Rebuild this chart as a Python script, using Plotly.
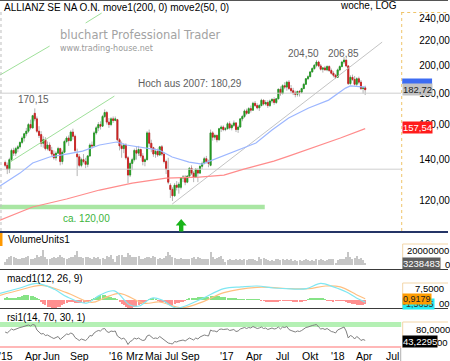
import math
import pandas as pd
import plotly.graph_objects as go

W, H = 450, 361
FONT = "Liberation Sans, Arial, sans-serif"


def fx(x):
    return x / W


def fy(y):
    return 1 - y / H


# ---------------- data ----------------
week_start = "2014-12-29"
dates = pd.date_range(week_start, periods=171, freq="7D")

open_ = [
    138.5, 137, 135, 140, 145, 143.5, 146, 147, 149.5, 152,
    154.5, 156, 160, 158, 167, 163.5, 156, 154, 149, 151,
    146, 148, 145, 143, 141, 143.5, 146, 139, 144, 150,
    152, 150.5, 155.5, 153, 143, 141.5, 137, 140, 139, 137.5,
    142, 148, 147.5, 155, 158, 160, 159, 165, 167.5, 161.5,
    160, 163.5, 162.5, 163, 151, 147.5, 146, 148, 141, 132,
    138, 140, 145, 143.5, 145.5, 142, 139, 140, 155, 149,
    146.5, 143, 144.5, 142.5, 147, 143, 139, 134.5, 127, 125,
    122, 127, 126, 126, 130.5, 131, 128.5, 131.5, 135.5, 133,
    131, 134.5, 133, 136.5, 138, 140.5, 139, 137, 155, 152.5,
    153.5, 151, 157.5, 158.5, 157, 157.5, 160.5, 158, 159.5, 161,
    157, 158.5, 163.5, 165, 168.5, 167, 170, 169, 173.5, 172,
    170.5, 172, 175.5, 173, 174, 172, 175, 176, 174, 176.5,
    183, 180, 185.5, 184.5, 188, 183.5, 182, 180.5, 179.5, 181.5,
    181, 183.5, 186.5, 190.5, 192, 195.5, 198, 200.5, 203, 200,
    197.5, 198.5, 197, 199.5, 196.5, 194.5, 193, 191.5, 197, 199.5,
    203, 204.5, 200, 187, 191.5, 190, 186.5, 190.5, 188, 183.5,
    184]
high = [
    139.5, 138.5, 141, 146, 146.5, 147, 148, 150, 153, 155,
    158, 161, 163, 166, 170.15, 165, 159, 156, 153, 152.5,
    150, 149.5, 147, 145, 144.5, 147, 146.5, 145, 151, 153,
    153.5, 156.5, 157.5, 154, 146, 143, 141, 143, 141, 142.5,
    149, 150, 156, 159, 161.5, 162, 166, 169.5, 168.5, 164,
    164.5, 165, 165, 163.5, 152, 150, 149, 149, 142, 139,
    141, 146, 147, 147.5, 146, 143.5, 141, 156, 157, 151,
    147, 146, 146, 147.5, 148, 144, 140, 141, 128, 126,
    128, 129, 128.5, 131, 132, 132, 132, 136, 137, 134,
    135.5, 135.5, 137, 139, 141.5, 142, 140, 157, 156, 154.5,
    154, 158, 159.5, 159.5, 158.5, 161.5, 162, 160.5, 162.5, 161.5,
    159.5, 164, 166, 169.5, 170, 171, 172, 174.5, 175, 173.5,
    173, 176.5, 176, 175.5, 175.5, 176, 177, 177.5, 177, 183.5,
    185, 186.5, 188, 189, 189.5, 186, 184, 182, 182, 182.5,
    184, 187.5, 191, 193, 196, 199, 201.5, 204.5, 204, 201.5,
    199, 200, 200.5, 200.5, 198, 196, 194, 198, 200.5, 204,
    206.85, 205, 200.5, 193, 193.5, 192.5, 191.5, 192, 189.5, 185,
    185.5]
low = [
    136, 132.5, 133, 139, 142, 142, 144, 146, 148.5, 150,
    153, 155, 157, 157.5, 162, 155, 152, 147, 146.5, 145,
    145, 144.5, 142, 140, 139.5, 143, 137, 137.5, 143.5, 149,
    147.5, 150, 151, 144, 131.5, 136, 136, 138, 135.5, 136,
    141.5, 146, 147, 154, 156, 157, 158.5, 164, 160, 158,
    159, 161, 162, 150, 145, 141, 143.5, 140, 128, 131,
    134.5, 139, 140, 142, 141, 137, 136.5, 139.5, 147, 144,
    141.5, 141, 141.5, 142, 142, 138, 132.5, 127.5, 121, 119.6,
    121.5, 124.5, 123, 125, 128.5, 127, 128, 131, 132, 128.5,
    130.5, 128.5, 132.5, 135, 137.5, 138, 136, 136.5, 150.5, 151,
    149.5, 150.5, 155.5, 156, 156, 157, 157, 156.5, 158.5, 155.5,
    155, 158, 162, 164, 166, 166.5, 167.5, 168.5, 171, 169.5,
    168.5, 171.5, 172, 172, 170.5, 171, 173.5, 172.5, 173, 176,
    178.5, 179.5, 183, 182, 182.5, 180.5, 179, 177.5, 178, 178,
    180, 183, 186, 189.5, 191.5, 195, 197, 199, 199, 196.5,
    195, 196.5, 196, 195.5, 193.5, 191.5, 190.5, 191, 196, 199,
    201.5, 199, 186, 186, 189, 185.5, 185, 186.5, 182.5, 180,
    179]
close = [
    137, 135, 140, 145, 143.5, 146, 147, 149.5, 152, 154.5,
    156, 160, 158, 165.5, 163.5, 156, 153.5, 149, 151, 146,
    148, 145, 143, 141, 143.5, 146, 139, 144, 150, 152,
    150.5, 155.5, 153, 145, 141.5, 137, 140, 139, 137.5, 142,
    148, 147.5, 155, 158, 160, 159, 165, 167.5, 161.5, 160,
    163.5, 162.5, 163.5, 151, 147.5, 146, 148, 141, 132, 138,
    140, 145, 143.5, 145.5, 142, 139, 140, 155, 149, 146.5,
    143, 144.5, 142.5, 147, 143, 139, 135, 128.5, 125, 122,
    127, 126, 127.5, 130.5, 131, 128.5, 131.5, 135.5, 133, 131,
    135, 133, 136.5, 138, 140.5, 139, 138, 155, 152.5, 153.5,
    151, 157.5, 158.5, 157, 157.5, 160.5, 158, 159.5, 161, 157,
    158.5, 163.5, 165, 168.5, 167, 170, 169, 173.5, 172, 170.5,
    172, 175.5, 173, 174, 172, 175, 176, 174, 176.5, 183,
    180, 185.5, 184.5, 188, 183.5, 182, 180.5, 179.5, 181.5, 181,
    183.5, 186.5, 190.5, 192, 195.5, 198, 200.5, 203, 200, 197.5,
    198.5, 197, 199.5, 196.5, 194.5, 193, 191.5, 197, 199.5, 203,
    204.5, 200, 187, 191.5, 190, 186.5, 190.5, 188, 183.5, 184,
    182.72]

# weekly volume (millions of shares)
volume_m = [
    5, 9, 12, 13, 11, 10, 9, 9, 10, 10,
    12, 13, 9, 8, 10, 14, 12, 13, 22, 11,
    9, 8, 10, 11, 10, 11, 14, 12, 10, 9,
    10, 11, 12, 14, 20, 12, 11, 10, 12, 11,
    10, 9, 12, 10, 11, 9, 10, 8, 13, 11,
    14, 9, 4, 13, 14, 15, 12, 12, 17, 14,
    11, 12, 11, 13, 9, 9, 10, 11, 12, 10,
    13, 12, 9, 10, 9, 10, 13, 19, 15, 12,
    10, 9, 8, 10, 9, 8, 8, 9, 10, 11,
    9, 11, 10, 9, 8, 8, 9, 19, 12, 9,
    10, 11, 13, 8, 4, 7, 8, 7, 7, 8,
    7, 8, 7, 8, 7, 8, 9, 8, 7, 6,
    11, 9, 10, 8, 7, 6, 7, 6, 8, 9,
    7, 8, 7, 8, 7, 9, 6, 7, 6, 7,
    6, 7, 9, 7, 6, 7, 6, 8, 7, 9,
    7, 6, 7, 8, 9, 8, 3, 7, 9, 8,
    9, 12, 18, 11, 9, 10, 13, 9, 10, 7,
    3.238483]

# MACD histogram (weekly)
macd_hist = [
    1.5, 2.0, 1.5, 1.0, 1.0, 1.5, 2.0, 2.5, 3.0, 3.5,
    3.5, 3.5, 3.0, 3.0, 2.5, 1.5, 0.5, -1.5, -3.0, -4.0,
    -5.0, -5.5, -6.0, -6.0, -6.0, -5.5, -5.0, -4.0, -3.0, -2.0,
    -1.0, -1.0, -1.5, -2.0, -2.5, -2.5, -2.5, -2.0, -1.5, -1.0,
    -0.5, 0.5, 1.5, 2.5, 3.0, 3.5, 3.5, 3.5, 3.0, 2.5,
    2.0, 1.5, 1.0, 0.3, -1.5, -3.0, -4.0, -5.0, -6.0, -6.0,
    -6.0, -5.5, -5.0, -4.0, -3.0, -2.5, -1.5, -0.5, 0.5, 1.0,
    1.0, 0.5, -0.3, -0.8, -1.2, -1.8, -2.5, -3.0, -3.5, -3.5,
    -3.0, -2.5, -2.0, -1.5, -1.0, -0.5, 0.3, 0.8, 1.2, 1.5,
    1.8, 2.0, 2.2, 2.5, 2.5, 2.5, 2.5, 2.8, 3.0, 3.0,
    3.0, 2.8, 2.5, 2.2, 2.0, 1.8, 1.5, 1.2, 1.0, 0.8,
    0.6, 0.4, 0.3, 0.3, 0.4, 0.5, 0.5, 0.5, 0.4, 0.3,
    0.1, -0.3, -0.6, -0.8, -1.0, -1.0, -1.0, -1.0, -0.9, -0.8,
    -0.7, -0.6, -0.5, -0.4, -0.5, -0.6, -0.8, -1.0, -1.2, -1.2,
    -1.0, -0.6, -0.2, 0.3, 0.8, 1.2, 1.5, 1.6, 1.5, 1.2,
    0.8, 0.3, -0.2, -0.5, -0.7, -0.8, -0.7, -0.5, -0.3, -0.1,
    -0.2, -1.0, -2.0, -2.5, -3.0, -3.3, -3.5, -3.5, -3.6, -3.5,
    -3.3]

# RSI(14) weekly
rsi = [
    60, 58, 62, 66, 64, 66, 67, 69, 70, 71,
    73, 74, 72, 75, 74, 64, 60, 56, 57, 53,
    54, 51, 49, 47, 49, 51, 45, 49, 54, 56,
    55, 58, 56, 49, 46, 43, 46, 45, 43, 47,
    53, 52, 58, 61, 63, 62, 66, 67, 61, 59,
    62, 61, 62, 52, 48, 46, 48, 43, 35, 41,
    43, 48, 46, 48, 45, 43, 44, 52, 54, 50,
    47, 48, 47, 51, 48, 44, 41, 38, 37, 36,
    41, 40, 42, 43, 44, 42, 45, 48, 46, 44,
    48, 46, 50, 52, 54, 53, 52, 64, 62, 62,
    60, 65, 66, 65, 65, 66, 63, 64, 65, 61,
    62, 66, 67, 69, 67, 69, 68, 71, 69, 67,
    68, 70, 67, 68, 65, 67, 68, 66, 67, 70,
    66, 70, 69, 71, 65, 63, 61, 60, 62, 61,
    63, 66, 69, 70, 72, 73, 74, 75, 70, 66,
    67, 65, 67, 63, 61, 60, 58, 64, 66, 69,
    70, 62, 48, 53, 51, 46, 51, 48, 43, 45,
    43.2295]

# moving averages
ma50_dates = ["2014-12-12", "2015-02-16", "2015-03-30", "2015-05-25", "2015-07-20",
              "2015-09-11", "2015-11-06", "2016-01-01", "2016-02-03", "2016-03-16",
              "2016-04-18", "2016-05-21", "2016-07-03", "2016-08-28", "2016-10-10",
              "2016-11-12", "2016-12-28", "2017-02-09", "2017-04-06", "2017-05-29",
              "2017-07-23", "2017-09-27", "2017-12-02", "2018-01-27", "2018-02-12",
              "2018-04-02"]
ma50_vals = [126.6, 133.0, 138.2, 141.4, 143.0, 144.6, 148.0, 149.7, 148.0, 146.9,
             146.3, 145.2, 141.4, 138.7, 137.6, 139.7, 142.4, 145.2, 149.1, 156.7,
             164.0, 170.4, 175.6, 183.8, 185.3, 184.5]
ma200_dates = ["2014-12-12", "2015-03-30", "2015-07-20", "2015-11-06", "2016-02-22",
               "2016-06-13", "2016-09-30", "2016-12-21", "2017-02-25", "2017-06-04",
               "2017-07-23", "2017-09-20", "2018-01-10", "2018-04-02"]
ma200_vals = [111.2, 116.9, 120.5, 124.7, 128.0, 130.5, 131.0, 132.0, 135.0, 139.2,
              141.9, 145.2, 152.0, 157.54]

macd_dates = ["2014-12-12", "2015-02-16", "2015-04-12", "2015-06-10", "2015-07-20",
              "2015-09-24", "2015-11-06", "2015-12-25", "2016-02-13", "2016-03-16",
              "2016-04-28", "2016-05-31", "2016-07-16", "2016-09-30", "2016-12-21",
              "2017-02-16", "2017-04-10", "2017-06-04", "2017-07-30", "2017-09-20",
              "2017-11-06", "2017-12-18", "2018-01-30", "2018-03-04", "2018-04-02"]
macd_vals = [5.0, 9.0, 12.5, 8.0, 2.5, -2.3, 3.5, 6.8, -3.5, -4.5,
             1.5, 0.0, -6.0, 0.0, 8.5, 9.8, 10.5, 9.0, 8.3, 8.5,
             12.5, 9.8, 6.0, 1.5, -1.5655]
signal_dates = ["2014-12-12", "2015-02-16", "2015-04-29", "2015-07-20", "2015-10-11",
                "2015-11-22", "2016-01-11", "2016-04-02", "2016-05-21", "2016-08-05",
                "2016-10-16", "2016-12-21", "2017-04-10", "2017-07-30", "2017-09-27",
                "2017-11-22", "2018-01-10", "2018-03-04", "2018-04-02"]
signal_vals = [3.5, 7.5, 11.0, 5.5, -1.8, 1.5, 5.0, -2.5, -1.5, -5.8,
               -1.0, 5.5, 9.5, 8.5, 8.5, 10.5, 9.8, 4.0, 0.9179]

# drawn lines / levels
x_left, x_right = "2014-12-12", "2018-07-30"
hoch_2007 = 180.29
support_level = 135.0
band_dates = ["2014-12-12", "2017-05-05"]
band_level = 116.9
gray_trend_dates = ["2016-07-03", "2018-05-28"]
gray_trend_vals = [118.2, 219.0]
chan_low_dates = ["2015-01-14", "2015-12-25"]
chan_low_vals = [138.7, 178.3]
chan_up_dates = ["2014-12-12", "2015-05-25", None, "2015-09-21", "2015-11-13"]
chan_up_vals = [193.2, 215.7, None, 235.5, 244.6]

price_ticks = [120, 140, 160, 180, 200, 220, 240]
x_tick_dates = ["2015-01-01", "2015-04-01", "2015-06-01", "2015-09-01", "2016-01-01",
                "2016-03-01", "2016-05-01", "2016-07-01", "2016-09-01", "2017-01-01",
                "2017-04-01", "2017-07-01", "2017-10-01", "2018-01-01", "2018-04-01",
                "2018-07-01"]
x_tick_text = ["'15", "Apr", "Jun", "Sep", "'16", "Mrz", "Mai", "Jul", "Sep", "'17",
               "Apr", "Jul", "Okt", "'18", "Apr", "Jul"]

# ---------------- figure ----------------
fig = go.Figure()

fig.add_trace(go.Scatter(x=band_dates, y=[band_level, band_level], mode="lines",
                         line=dict(color="#a9e6a3", width=4.5), yaxis="y", hoverinfo="skip"))
fig.add_trace(go.Scatter(x=[x_left, x_right], y=[hoch_2007, hoch_2007], mode="lines",
                         line=dict(color="#cfcfcf", width=1), yaxis="y", hoverinfo="skip"))
fig.add_trace(go.Scatter(x=[x_left, x_right], y=[support_level, support_level], mode="lines",
                         line=dict(color="#cfcfcf", width=1), yaxis="y", hoverinfo="skip"))
fig.add_trace(go.Scatter(x=chan_up_dates, y=chan_up_vals, mode="lines", connectgaps=False,
                         line=dict(color="#9fe09a", width=1), yaxis="y", hoverinfo="skip"))
fig.add_trace(go.Scatter(x=chan_low_dates, y=chan_low_vals, mode="lines",
                         line=dict(color="#9fe09a", width=1), yaxis="y", hoverinfo="skip"))
fig.add_trace(go.Scatter(x=gray_trend_dates, y=gray_trend_vals, mode="lines",
                         line=dict(color="#c4c4c4", width=1), yaxis="y", hoverinfo="skip"))
fig.add_trace(go.Scatter(x=ma200_dates, y=ma200_vals, mode="lines",
                         line=dict(color="#ff8c8c", width=1.2), yaxis="y", hoverinfo="skip"))
fig.add_trace(go.Scatter(x=ma50_dates, y=ma50_vals, mode="lines",
                         line=dict(color="#9db7ff", width=1.2), yaxis="y", hoverinfo="skip"))

# candles: gray wicks, coloured bodies
fig.add_trace(go.Candlestick(
    x=dates, open=open_, high=high, low=low, close=close, yaxis="y",
    increasing=dict(line=dict(color="#b4b4b4", width=1), fillcolor="#b4b4b4"),
    decreasing=dict(line=dict(color="#b4b4b4", width=1), fillcolor="#b4b4b4"),
    whiskerwidth=0, hoverinfo="skip"))
body_top = [max(o, c) for o, c in zip(open_, close)]
body_bot = [min(o, c) for o, c in zip(open_, close)]
fig.add_trace(go.Candlestick(
    x=dates, open=open_, high=body_top, low=body_bot, close=close, yaxis="y",
    increasing=dict(line=dict(color="#1f9a1f", width=0.8), fillcolor="#1f9a1f"),
    decreasing=dict(line=dict(color="#cc1f1f", width=0.8), fillcolor="#cc1f1f"),
    whiskerwidth=0, hoverinfo="skip"))

# volume
WEEK_MS = 7 * 24 * 3600 * 1000
fig.add_trace(go.Bar(x=dates, y=volume_m, yaxis="y2", width=0.5 * WEEK_MS,
                     marker=dict(color="#c6c6c6", line=dict(width=0)), hoverinfo="skip"))

# MACD
hist_colors = ["#86e386" if v >= 0 else "#ff8f8f" for v in macd_hist]
fig.add_trace(go.Bar(x=dates, y=macd_hist, yaxis="y3", width=0.95 * WEEK_MS,
                     marker=dict(color=hist_colors, line=dict(width=0)), hoverinfo="skip"))
fig.add_trace(go.Scatter(x=signal_dates, y=signal_vals, mode="lines", line=dict(color="#ffbf80", width=1.2),
                         yaxis="y3", line_shape="spline", hoverinfo="skip"))
fig.add_trace(go.Scatter(x=macd_dates, y=macd_vals, mode="lines", line=dict(color="#7fe7f2", width=1.2),
                         yaxis="y3", line_shape="spline", hoverinfo="skip"))

# RSI
fig.add_trace(go.Scatter(x=dates, y=rsi, mode="lines", line=dict(color="#808080", width=1),
                         yaxis="y4", hoverinfo="skip"))

# ---------------- layout ----------------
shapes = []


def pline(x0, y0, x1, y1, color, width=1, dash=None):
    shapes.append(dict(type="line", xref="paper", yref="paper", x0=fx(x0), y0=fy(y0), x1=fx(x1), y1=fy(y1),
                       line=dict(color=color, width=width, dash=dash), layer="above"))


def prect(x0, y0, x1, y1, color):
    shapes.append(dict(type="rect", xref="paper", yref="paper", x0=fx(x0), y0=fy(y0), x1=fx(x1), y1=fy(y1),
                       fillcolor=color, line=dict(width=0), layer="above"))


# RSI zones
shapes.append(dict(type="rect", xref="paper", yref="y4", x0=0, x1=fx(403), y0=70, y1=80,
                   fillcolor="#b4f0b4", line=dict(width=0), layer="below"))
shapes.append(dict(type="line", xref="paper", yref="y4", x0=0, x1=fx(403), y0=30, y1=30,
                   line=dict(color="#ffb8b8", width=2), layer="below"))

pline(0, 0.5, 450, 0.5, "#555555", 1)
pline(1, 12, 1, 231, "#bdbdbd", 1, "dot")
pline(403.5, 12, 403.5, 231, "#efc46a", 1, "dot")
pline(403, 12.5, 450, 12.5, "#efc46a", 1, "dot")
pline(0, 232, 450, 232, "#243466", 2)
pline(0, 269.5, 450, 269.5, "#3a3a3a", 1)
pline(0, 308.5, 450, 308.5, "#3a3a3a", 1)
pline(402.5, 348, 402.5, 361, "#b0b0b0", 1)
for top, bot in [(244, 269), (283, 308), (322, 348)]:
    pline(404.5, top, 404.5, bot, "#f3d6a8", 1)
    pline(404.5, top, 450, top, "#f3d6a8", 1)
prect(0, 233, 2.5, 246, "#ff9900")
# blue last-value marker of the 50-week average (partly covered by the close box)
prect(404, 78.5, 434, 84, "#3d6cf2")

# green arrow under the low
ax_pts = [(182, 219), (187.5, 225.5), (184.2, 225.5), (184.2, 231.5), (179.8, 231.5),
          (179.8, 225.5), (176.5, 225.5)]
arrow_path = "M " + " L ".join(f"{fx(a):.5f},{fy(b):.5f}" for a, b in ax_pts) + " Z"
shapes.append(dict(type="path", xref="paper", yref="paper", path=arrow_path,
                   fillcolor="#19b419", line=dict(width=0), layer="above"))

ann = []


def label(text, x, y, size=10, color="#000000", xanchor="left", bg=None, family=FONT):
    d = dict(text=text, x=fx(x), y=fy(y), xref="paper", yref="paper", xanchor=xanchor, yanchor="middle",
             showarrow=False, font=dict(family=family, size=size, color=color))
    if bg:
        d.update(bgcolor=bg, borderpad=0)
    ann.append(d)


label("ALLIANZ SE NA O.N. move1(200, 0) move2(50, 0)", 2, 7, 10)
label("woche, LOG", 401, 6, 10, xanchor="right")
label("bluchart Professional Trader", 58, 35, 11.5, "#a3a3a3", family="DejaVu Sans")
label("www.trading-house.net", 58, 48.5, 8, "#9a9a9a", family="DejaVu Sans")
label("170,15", 34, 99, 10, "#606060", xanchor="center")
label("Hoch aus 2007: 180,29", 191, 83, 10, "#606060", xanchor="center")
label("204,50", 305, 53, 10, "#606060", xanchor="center")
label("206,85", 345.5, 53, 10, "#606060", xanchor="center")
label("ca. 120,00", 87, 218, 10, "#3cb43c", xanchor="center")
label("VolumeUnits1", 6, 239, 10)
label("macd1(12, 26, 9)", 5, 278, 10)
label("rsi1(14, 70, 30, 1)", 5, 317, 10)

# right-hand axis labels of lower panels (parts hidden behind value boxes shown as visible fragments)
label("20000000", 407, 250.5, 9.5)
label("0", 445, 264.5, 9.5)
label("7,5000", 415, 288.5, 9.5)
label("00", 439, 303.5, 9.5)
label("80,0000", 415.5, 329.5, 9.5)
label("00", 437, 342.5, 9.5)

# last-value boxes
label("182,72", 404, 89.5, 9.5, "#222222", bg="#c3c3c3")
label("157,54", 404, 128, 9.5, "#ffffff", bg="#ff1c1c")
label("3238483", 404, 263, 9.5, "#ffffff", bg="#5e5e5e")
label("-1,5655", 404, 304, 9, "#333333", bg="#22eaf2")
label("0,9179", 404, 299, 9, "#222222", bg="#ff9c00")
label("43,2295", 404, 341, 9.5, "#ffffff", bg="#000000")

# date labels under the bottom panel, anchored to the date axis
for d, t in zip(x_tick_dates, x_tick_text):
    ann.append(dict(text=t, x=d, xref="x", y=fy(356), yref="paper", xanchor="center", yanchor="middle",
                    showarrow=False, font=dict(family=FONT, size=10.5, color="#000000")))

fig.update_layout(
    width=W, height=H, margin=dict(l=0, r=0, t=0, b=0),
    paper_bgcolor="white", plot_bgcolor="white",
    separators=",.", showlegend=False,
    font=dict(family=FONT, size=10, color="#000000"),
    shapes=shapes, annotations=ann,
    xaxis=dict(type="date", range=[x_left, x_right], domain=[0, fx(403)], anchor="y4",
               rangeslider=dict(visible=False), showticklabels=False,
               showgrid=False, zeroline=False, showline=False, ticks=""),
    yaxis=dict(type="log", domain=[fy(231), fy(11)], anchor="x", side="right",
               range=[math.log10(106.7), math.log10(246.5)], tickvals=price_ticks, tickformat=".2f",
               showgrid=False, zeroline=False, showline=False, ticks="", ticklabelstandoff=17,
               tickfont=dict(size=10, color="#000000")),
    yaxis2=dict(domain=[fy(269), fy(233)], anchor="x", side="right", range=[-5.7, 45.7],
                showticklabels=False, showgrid=False, zeroline=False, ticks=""),
    yaxis3=dict(domain=[fy(308), fy(270)], anchor="x", side="right", range=[-6.0, 22.5],
                showticklabels=False, showgrid=False, zeroline=False, ticks=""),
    yaxis4=dict(domain=[fy(348), fy(309)], anchor="x", side="right", range=[28, 106],
                showticklabels=False, showgrid=False, zeroline=False, ticks=""),
    bargap=0,
)

fig.write_html("out.html", config={"displayModeBar": False})
